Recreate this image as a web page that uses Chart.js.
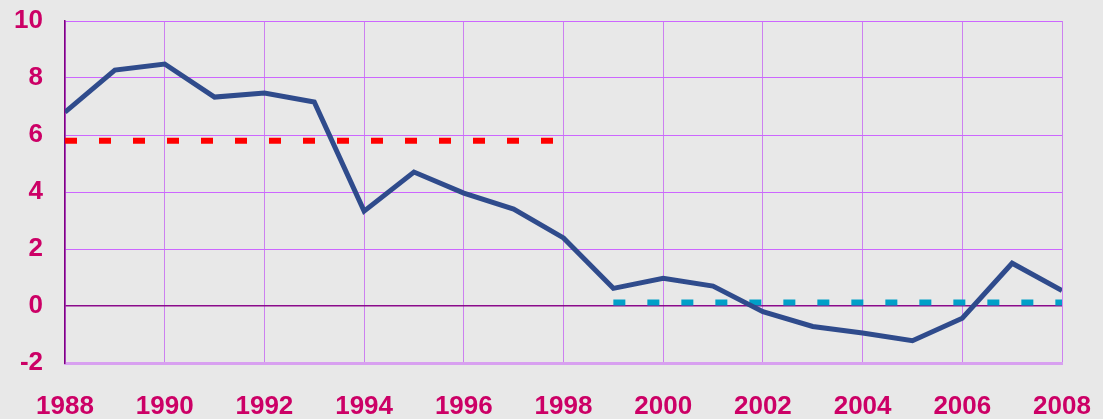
<!DOCTYPE html>
<html lang="en">
<head>
    <meta charset="UTF-8">
    <title>Chart</title>
    <script src="https://cdn.jsdelivr.net/npm/chart.js@4/dist/chart.umd.min.js"></script>
</head>
<style>
    html, body {
        margin: 0;
        padding: 0;
        background: #e8e8e8;
    }
    #wrap {
        width: 1103px;
        height: 419px;
    }
</style>
<body>
    <div id="wrap"><canvas id="plotCanvas"></canvas></div>

    <script>
        const years = [1988, 1989, 1990, 1991, 1992, 1993, 1994, 1995, 1996, 1997, 1998,
                       1999, 2000, 2001, 2002, 2003, 2004, 2005, 2006, 2007, 2008];
        const mainValues = [6.8, 8.28, 8.49, 7.33, 7.47, 7.16, 3.33, 4.7, 3.96, 3.4, 2.39,
                            0.62, 0.97, 0.7, -0.2, -0.72, -0.95, -1.22, -0.43, 1.5, 0.54];
        const earlyAvg = [5.8, 5.8, 5.8, 5.8, 5.8, 5.8, 5.8, 5.8, 5.8, 5.8, 5.8,
                          null, null, null, null, null, null, null, null, null, null];
        const lateAvg = [null, null, null, null, null, null, null, null, null, null, null,
                         0.12, 0.12, 0.12, 0.12, 0.12, 0.12, 0.12, 0.12, 0.12, 0.12];
        const yTicks = [-2, 0, 2, 4, 6, 8, 10];

        const toPoints = arr => arr.map((v, i) => ({ x: years[i], y: v }));

        const tickColor = '#cc0066';
        const tickFont = { family: 'Arial, "Liberation Sans", sans-serif', size: 26, weight: 'bold' };

        new Chart(document.getElementById('plotCanvas'), {
            type: 'line',
            data: {
                datasets: [
                    {
                        data: toPoints(earlyAvg),
                        borderColor: '#ff0000',
                        borderWidth: 6,
                        borderDash: [12, 22],
                        borderCapStyle: 'butt',
                        pointRadius: 0,
                        spanGaps: false,
                        order: 2
                    },
                    {
                        data: toPoints(lateAvg),
                        borderColor: '#00a0c8',
                        borderWidth: 6,
                        borderDash: [12, 22],
                        borderCapStyle: 'butt',
                        pointRadius: 0,
                        spanGaps: false,
                        order: 2
                    },
                    {
                        data: toPoints(mainValues),
                        borderColor: '#2f4b8c',
                        borderWidth: 5,
                        pointRadius: 0,
                        tension: 0,
                        order: 1
                    }
                ]
            },
            options: {
                responsive: true,
                maintainAspectRatio: false,
                animation: false,
                layout: { padding: { top: 21, right: 41, left: 0, bottom: 0 } },
                plugins: {
                    legend: { display: false },
                    tooltip: { enabled: false }
                },
                scales: {
                    x: {
                        type: 'linear',
                        min: 1988,
                        max: 2008,
                        afterFit: s => {
                            s.height = 56;
                            s.paddingLeft = 0;
                            s.paddingRight = 0;
                        },
                        ticks: {
                            stepSize: 2,
                            callback: v => String(v),
                            color: tickColor,
                            font: tickFont,
                            padding: 28,
                            maxRotation: 0,
                            autoSkip: false
                        },
                        grid: {
                            color: '#cc80f0',
                            lineWidth: 1,
                            drawTicks: false
                        },
                        border: { color: '#d8a0f0', width: 3 }
                    },
                    y: {
                        min: -2,
                        max: 10,
                        afterFit: s => {
                            s.width = 65;
                            s.paddingTop = 0;
                            s.paddingBottom = 0;
                        },
                        afterBuildTicks: s => { s.ticks = yTicks.map(v => ({ value: v })); },
                        ticks: {
                            color: tickColor,
                            font: tickFont,
                            padding: 22
                        },
                        grid: {
                            color: ctx => ctx.tick && ctx.tick.value === 0 ? '#8b0a8b' : '#cc66ff',
                            lineWidth: ctx => ctx.tick && ctx.tick.value === 0 ? 1.5 : 1,
                            drawTicks: false
                        },
                        border: { color: '#800080', width: 1.5 }
                    }
                }
            }
        });
    </script>
</body>
</html>
